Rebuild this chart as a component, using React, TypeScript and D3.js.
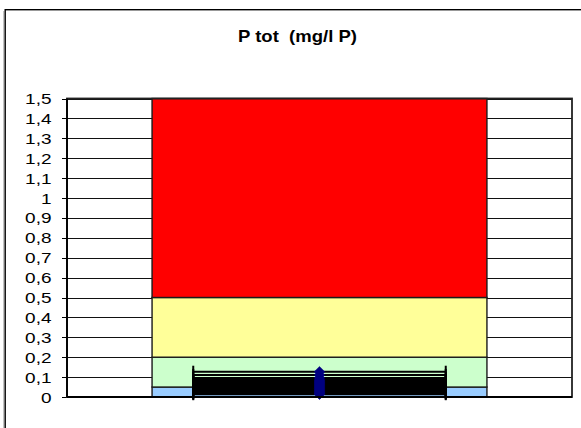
import React from "react";
import * as d3 from "d3";

// ---- data ----
const categories = ["P tot"];
const classLower = [0, 0.05, 0.2, 0.5];
const classUpper = [0.05, 0.2, 0.5, 1.5];
const yTickValues = [0, 0.1, 0.2, 0.3, 0.4, 0.5, 0.6, 0.7, 0.8, 0.9, 1, 1.1, 1.2, 1.3, 1.4, 1.5];
const measurements = [0.127, 0.111, 0.096, 0.086, 0.081, 0.076, 0.071, 0.066, 0.061, 0.056, 0.051, 0.046, 0.041, 0.036, 0.031, 0.026, 0.021, 0.017, 0.014];
const measurementX = 1;
const xErrorHalf = 0.25;

const classColors = ["#99CCFF", "#CCFFCC", "#FFFF99", "#FF0000"];

const W = 581;
const H = 428;
const plot = { left: 67, right: 572, top: 98.5, bottom: 397 };

export default function App() {
  const y = d3.scaleLinear().domain([0, 1.5]).range([plot.bottom, plot.top]);
  const band = d3
    .scaleBand<string>()
    .domain(categories)
    .range([plot.left, plot.right])
    .paddingInner(0)
    .paddingOuter(0.254);
  const xLin = d3.scaleLinear().domain([0.5, 1.5]).range([plot.left, plot.right]);
  const fmt = (v: number) => d3.format("~g")(+v.toFixed(1)).replace(".", ",");

  const bx = band(categories[0])!;
  const bw = band.bandwidth();
  const labelFont = "'Liberation Sans', Arial, sans-serif";
  const capHalf = 6;

  const diamond = (cx: number, cy: number, r: number) =>
    `M${cx},${cy - r}L${cx + r},${cy}L${cx},${cy + r}L${cx - r},${cy}Z`;

  return (
    <svg
      width={W}
      height={H}
      style={{ position: "absolute", left: 0, top: 0, background: "#fff" }}
    >
      <rect x={0} y={0} width={W} height={H} fill="#fff" />
      {/* outer frame */}
      <line x1={3.8} y1={11} x2={3.8} y2={H + 5} stroke="#aaa" strokeWidth={1} />
      <rect x={5.2} y={9.7} width={620} height={460} fill="none" stroke="#000" strokeWidth={1.4} />

      {/* title */}
      <text
        x={297.5}
        y={41.7}
        textAnchor="middle"
        fontFamily={labelFont}
        fontWeight="bold"
        fontSize={17.3}
        textLength={119}
        lengthAdjust="spacingAndGlyphs"
        fill="#000"
        style={{ whiteSpace: "pre" }}
      >
        {"P tot  (mg/l P)"}
      </text>

      {/* plot background */}
      <rect x={plot.left} y={plot.top} width={plot.right - plot.left} height={plot.bottom - plot.top} fill="#fff" />

      {/* gridlines */}
      {yTickValues.map((v) => {
        const yy = Math.round(y(v)) + 0.5;
        return (
          <g key={"g" + v}>
            <line x1={plot.left} x2={plot.right} y1={yy} y2={yy} stroke="#111" strokeWidth={1} />
            <line x1={62} x2={plot.left} y1={yy} y2={yy} stroke="#000" strokeWidth={1} />
          </g>
        );
      })}

      {/* class bands */}
      {classLower.map((lo, i) => (
        <rect
          key={"c" + i}
          x={bx}
          y={y(classUpper[i])}
          width={bw}
          height={y(lo) - y(classUpper[i])}
          fill={classColors[i]}
          stroke="#1a1a1a"
          strokeWidth={1.4}
        />
      ))}

      {/* error bars */}
      {measurements.map((m, i) => {
        const yy = y(m);
        const x1 = xLin(measurementX - xErrorHalf);
        const x2 = xLin(measurementX + xErrorHalf);
        return (
          <g key={"e" + i}>
            <line x1={x1} x2={x2} y1={yy} y2={yy} stroke="#000" strokeWidth={2} />
            <line x1={x1} x2={x1} y1={yy - capHalf} y2={yy + capHalf} stroke="#000" strokeWidth={2} />
            <line x1={x2} x2={x2} y1={yy - capHalf} y2={yy + capHalf} stroke="#000" strokeWidth={2} />
          </g>
        );
      })}

      {/* markers */}
      {measurements.map((m, i) => (
        <path key={"m" + i} d={diamond(xLin(measurementX), y(m), 5.3)} fill="#000080" stroke="#000080" strokeWidth={0.5} />
      ))}

      {/* plot border */}
      <rect
        x={plot.left}
        y={plot.top}
        width={plot.right - plot.left}
        height={plot.bottom - plot.top}
        fill="none"
        stroke="#222"
        strokeWidth={1.8}
      />
      <line x1={plot.left} x2={plot.left} y1={plot.top} y2={plot.bottom} stroke="#000" strokeWidth={1.8} />
      <line x1={plot.left} x2={plot.right} y1={plot.bottom} y2={plot.bottom} stroke="#000" strokeWidth={1.8} />

      {/* y tick labels */}
      {yTickValues.map((v) => (
        <text
          key={"t" + v}
          transform={`translate(51.5,${y(v) + 5.5}) scale(1.25,1)`}
          textAnchor="end"
          fontFamily={labelFont}
          fontSize={15.2}
          fill="#000"
        >
          {fmt(v)}
        </text>
      ))}
    </svg>
  );
}
